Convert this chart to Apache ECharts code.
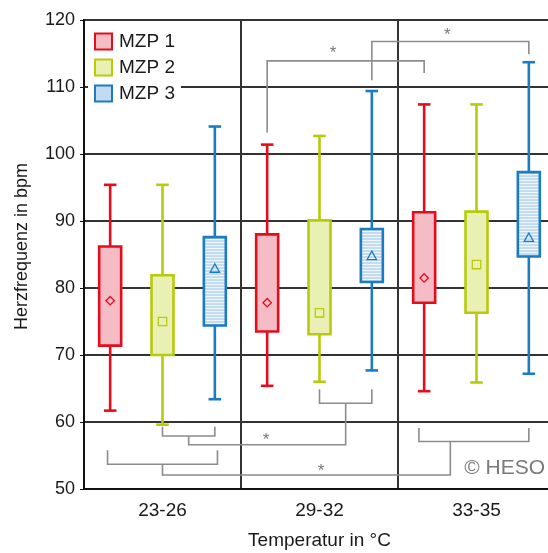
<!DOCTYPE html>
<html>
<head>
<meta charset="utf-8">
<script src="https://cdn.jsdelivr.net/npm/echarts@6/dist/echarts.min.js"></script>
<style>
html, body { margin: 0; padding: 0; background: #fff; }
#chart { width: 548px; height: 553px; }
</style>
</head>
<body>
<div id="chart"></div>
<script>
var groups = ['23-26', '29-32', '33-35'];
var seriesNames = ['MZP 1', 'MZP 2', 'MZP 3'];
// per temperature group: [min, q1, q3, max, mean]
var mzp1 = [[61.7, 71.4, 86.2, 95.4, 78.1], [65.4, 73.5, 88.0, 101.4, 77.8], [64.6, 77.8, 91.3, 107.4, 81.5]];
var mzp2 = [[59.6, 70.0, 81.9, 95.4, 75.0], [66.0, 73.1, 90.1, 102.7, 76.3], [65.9, 76.3, 91.4, 107.4, 83.5]];
var mzp3 = [[63.4, 74.4, 87.6, 104.1, 82.9], [67.7, 80.9, 88.8, 109.4, 84.8], [67.2, 84.7, 97.3, 113.7, 87.5]];
var yMin = 50, yMax = 120, yStep = 10;
// significance brackets, x in box slots (0..9, three per group), y in bpm
var brackets = [
    [[3.5, 103.2], [3.5, 113.9], [6.5, 113.9], [6.5, 112.1]],
    [[5.5, 111.0], [5.5, 116.8], [8.5, 116.8], [8.5, 114.9]],
    [[1.5, 59.3], [1.5, 57.9], [2.5, 57.9], [2.5, 59.3]],
    [[2.0, 57.9], [2.0, 56.6], [5.0, 56.6], [5.0, 62.8]],
    [[4.5, 64.9], [4.5, 62.8], [5.5, 62.8], [5.5, 64.9]],
    [[0.45, 55.8], [0.45, 53.7], [2.55, 53.7], [2.55, 55.8]],
    [[1.5, 53.7], [1.5, 52.1], [7.0, 52.1], [7.0, 57.1]],
    [[6.4, 59.1], [6.4, 57.1], [8.5, 57.1], [8.5, 59.1]]
];
var stars = [[4.76, 115.0], [6.94, 117.7], [3.48, 57.2], [4.53, 52.7]];

var font = 'Liberation Sans, Arial, sans-serif';
var styles = [
    { stroke: '#e30d1d', fill: '#f6bcc6', marker: 'diamond' },
    { stroke: '#b7cb0c', fill: '#eaf0b3', marker: 'square' },
    { stroke: '#1c7cc2', fill: '#c2dbf1', marker: 'triangle' }
];

function markerShape(type, x, y, st) {
    var r = 4.2;
    var style = { fill: 'rgba(0,0,0,0)', stroke: st.stroke, lineWidth: 1.3 };
    if (type == 'square') {
        return { type: 'rect', shape: { x: x - r, y: y - r, width: 2 * r, height: 2 * r }, style: style };
    }
    if (type == 'triangle') {
        return { type: 'polygon', shape: { points: [[x, y - r - 0.5], [x + r + 0.5, y + r - 0.5], [x - r - 0.5, y + r - 0.5]] }, style: style };
    }
    return { type: 'polygon', shape: { points: [[x, y - r], [x + r, y], [x, y + r], [x - r, y]] }, style: style };
}

function boxRender(idx) {
    var st = styles[idx];
    return function (params, api) {
        var g = api.value(0);
        var slot = api.size([1, 0])[0] / 3;
        var cx = api.coord([g, yMin])[0] + (idx - 1) * slot;
        var pMin = api.coord([g, api.value(1)])[1];
        var pQ1 = api.coord([g, api.value(2)])[1];
        var pQ3 = api.coord([g, api.value(3)])[1];
        var pMax = api.coord([g, api.value(4)])[1];
        var pMean = api.coord([g, api.value(5)])[1];
        var bw = slot * 0.42, cw = slot * 0.24;
        var line = { stroke: st.stroke, lineWidth: 2.6 };
        var kids = [
            { type: 'line', shape: { x1: cx, y1: pMin, x2: cx, y2: pQ1 }, style: line },
            { type: 'line', shape: { x1: cx, y1: pQ3, x2: cx, y2: pMax }, style: line },
            { type: 'line', shape: { x1: cx - cw / 2, y1: pMin, x2: cx + cw / 2, y2: pMin }, style: line },
            { type: 'line', shape: { x1: cx - cw / 2, y1: pMax, x2: cx + cw / 2, y2: pMax }, style: line },
            { type: 'rect', shape: { x: cx - bw / 2, y: pQ3, width: bw, height: pQ1 - pQ3 }, style: { fill: st.fill, stroke: 'none' } }
        ];
        // horizontal hatching on the blue boxes
        if (idx == 2) {
            for (var y = pQ3 + 2.5; y < pQ1 - 1; y += 3) {
                kids.push({ type: 'line', shape: { x1: cx - bw / 2, y1: y, x2: cx + bw / 2, y2: y }, style: { stroke: '#ffffff', lineWidth: 1, opacity: 0.8 } });
            }
        }
        kids.push({ type: 'rect', shape: { x: cx - bw / 2, y: pQ3, width: bw, height: pQ1 - pQ3 }, style: { fill: 'none', stroke: st.stroke, lineWidth: 2.6 } });
        kids.push(markerShape(st.marker, cx, pMean, st));
        return { type: 'group', children: kids };
    };
}

function toData(arr) {
    return arr.map(function (v, i) { return [i].concat(v); });
}

var chart = echarts.init(document.getElementById('chart'), null, { renderer: 'canvas' });

var allBoxes = [mzp1, mzp2, mzp3];
var series = [];
for (var s = 0; s < 3; s++) {
    series.push({
        name: seriesNames[s],
        type: 'custom',
        xAxisIndex: 0,
        yAxisIndex: 0,
        itemStyle: { color: styles[s].fill, borderColor: styles[s].stroke },
        encode: { x: 0, y: [1, 2, 3, 4, 5] },
        renderItem: boxRender(s),
        data: toData(allBoxes[s]),
        z: 3
    });
}
series.push({
    type: 'custom',
    xAxisIndex: 1,
    yAxisIndex: 0,
    silent: true,
    encode: { x: 0, y: 1 },
    data: brackets.map(function (b) { return b[0]; }),
    renderItem: function (params, api) {
        var pts = brackets[params.dataIndex].map(function (p) { return api.coord(p); });
        return { type: 'polyline', shape: { points: pts }, style: { stroke: '#8c8c8c', lineWidth: 1.6, fill: 'none' } };
    },
    z: 4
});
series.push({
    type: 'custom',
    xAxisIndex: 1,
    yAxisIndex: 0,
    silent: true,
    encode: { x: 0, y: 1 },
    data: stars,
    renderItem: function (params, api) {
        var p = api.coord([api.value(0), api.value(1)]);
        return { type: 'text', x: p[0], y: p[1], style: { text: '*', fill: '#777', fontSize: 17, fontFamily: font, align: 'center', verticalAlign: 'middle' } };
    },
    z: 4
});

var option = {
    animation: false,
    backgroundColor: '#fff',
    textStyle: { fontFamily: font },
    grid: {
        left: 84,
        top: 20,
        width: 471,
        height: 469,
        outerBoundsMode: 'none',
        show: true,
        borderColor: '#111',
        borderWidth: 2
    },
    legend: {
        orient: 'vertical',
        left: 88,
        top: 28,
        backgroundColor: '#fff',
        padding: [4, 6, 4, 6],
        itemGap: 7,
        itemWidth: 17,
        itemHeight: 16,
        textStyle: { fontSize: 19, color: '#1a1a1a', fontFamily: font, padding: [0, 0, 0, 2] },
        data: seriesNames.map(function (n, i) {
            return { name: n, icon: 'rect', itemStyle: { color: styles[i].fill, borderColor: styles[i].stroke, borderWidth: 2 } };
        })
    },
    xAxis: [{
        type: 'category',
        data: groups,
        axisLine: { lineStyle: { color: '#111', width: 2 } },
        axisTick: { show: false },
        axisLabel: { fontSize: 19, color: '#1a1a1a', margin: 12 },
        splitLine: { show: true, lineStyle: { color: '#333', width: 2 } },
        name: 'Temperatur in °C',
        nameLocation: 'middle',
        nameGap: 42,
        nameTextStyle: { fontSize: 19, color: '#1a1a1a' }
    }, {
        type: 'value',
        min: 0,
        max: 9,
        show: false
    }],
    yAxis: {
        type: 'value',
        min: yMin,
        max: yMax,
        interval: yStep,
        axisLine: { show: true, lineStyle: { color: '#111', width: 2 } },
        axisTick: { show: true, length: 4, lineStyle: { color: '#111' } },
        axisLabel: { fontSize: 18, color: '#1a1a1a', margin: 9 },
        splitLine: { show: true, lineStyle: { color: '#333', width: 2 } },
        name: 'Herzfrequenz in bpm',
        nameLocation: 'middle',
        nameGap: 53,
        nameTextStyle: { fontSize: 18, color: '#1a1a1a', padding: [0, 0, 0, 16] }
    },
    graphic: [{
        type: 'text',
        right: 3,
        top: 458,
        style: { text: '© HESO', fill: '#7a7a7a', fontSize: 21, fontFamily: font }
    }],
    series: series
};
chart.setOption(option);
</script>
</body>
</html>
